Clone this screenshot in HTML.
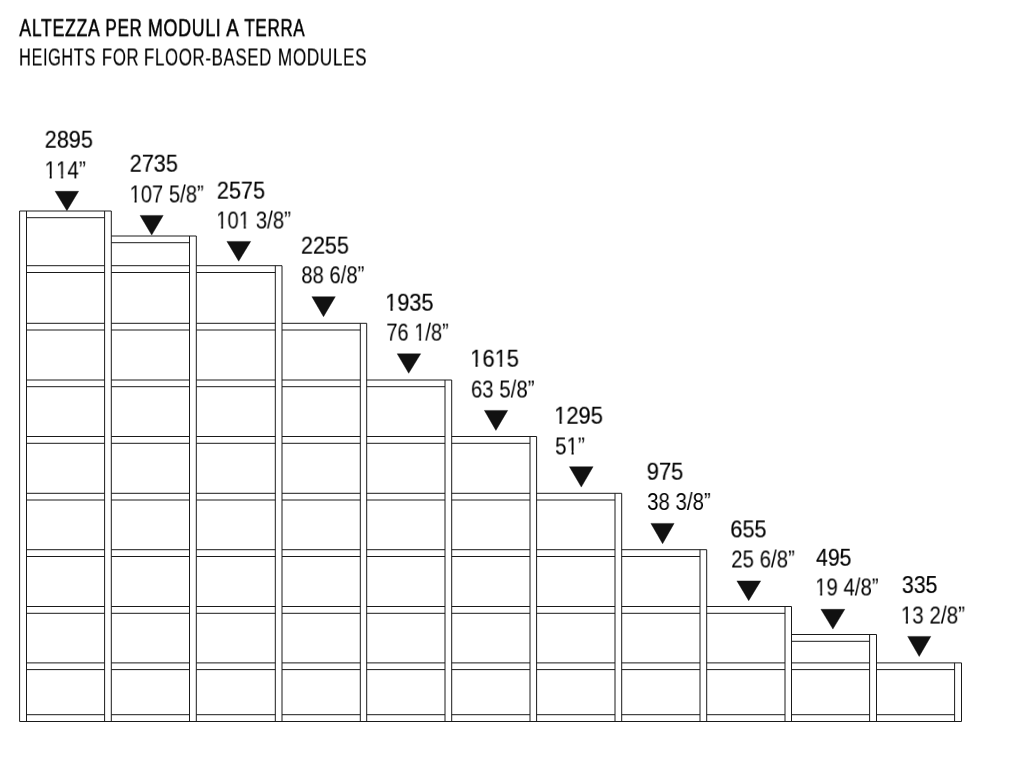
<!DOCTYPE html>
<html><head><meta charset="utf-8"><style>
html,body{margin:0;padding:0;background:#fff;width:1025px;height:780px;overflow:hidden}
.t{position:absolute;font-family:"Liberation Sans",sans-serif;white-space:nowrap;line-height:1;transform-origin:0 0;will-change:transform}
svg{position:absolute;left:0;top:0}
.o{display:inline-block;clip-path:polygon(0 0,100% 0,100% 65%,62% 65%,62% 100%,44% 100%,44% 65%,0 65%)}
</style></head><body>
<svg width="1025" height="780" viewBox="0 0 1025 780">
<g stroke="#1a1a1a" stroke-width="1.0" fill="none" stroke-linecap="butt">
<line x1="19.60" y1="211.00" x2="111.30" y2="211.00"/>
<line x1="26.50" y1="217.70" x2="104.60" y2="217.70"/>
<line x1="26.50" y1="265.70" x2="104.60" y2="265.70"/>
<line x1="26.50" y1="272.50" x2="104.60" y2="272.50"/>
<line x1="26.50" y1="323.30" x2="104.60" y2="323.30"/>
<line x1="26.50" y1="330.00" x2="104.60" y2="330.00"/>
<line x1="26.50" y1="380.00" x2="104.60" y2="380.00"/>
<line x1="26.50" y1="386.70" x2="104.60" y2="386.70"/>
<line x1="26.50" y1="436.50" x2="104.60" y2="436.50"/>
<line x1="26.50" y1="443.30" x2="104.60" y2="443.30"/>
<line x1="26.50" y1="493.30" x2="104.60" y2="493.30"/>
<line x1="26.50" y1="500.00" x2="104.60" y2="500.00"/>
<line x1="26.50" y1="549.70" x2="104.60" y2="549.70"/>
<line x1="26.50" y1="556.50" x2="104.60" y2="556.50"/>
<line x1="26.50" y1="606.50" x2="104.60" y2="606.50"/>
<line x1="26.50" y1="613.30" x2="104.60" y2="613.30"/>
<line x1="26.50" y1="662.90" x2="104.60" y2="662.90"/>
<line x1="26.50" y1="669.60" x2="104.60" y2="669.60"/>
<line x1="26.50" y1="714.70" x2="104.60" y2="714.70"/>
<line x1="111.30" y1="236.00" x2="196.30" y2="236.00"/>
<line x1="111.30" y1="242.70" x2="189.50" y2="242.70"/>
<line x1="111.30" y1="265.70" x2="189.50" y2="265.70"/>
<line x1="111.30" y1="272.50" x2="189.50" y2="272.50"/>
<line x1="111.30" y1="323.30" x2="189.50" y2="323.30"/>
<line x1="111.30" y1="330.00" x2="189.50" y2="330.00"/>
<line x1="111.30" y1="380.00" x2="189.50" y2="380.00"/>
<line x1="111.30" y1="386.70" x2="189.50" y2="386.70"/>
<line x1="111.30" y1="436.50" x2="189.50" y2="436.50"/>
<line x1="111.30" y1="443.30" x2="189.50" y2="443.30"/>
<line x1="111.30" y1="493.30" x2="189.50" y2="493.30"/>
<line x1="111.30" y1="500.00" x2="189.50" y2="500.00"/>
<line x1="111.30" y1="549.70" x2="189.50" y2="549.70"/>
<line x1="111.30" y1="556.50" x2="189.50" y2="556.50"/>
<line x1="111.30" y1="606.50" x2="189.50" y2="606.50"/>
<line x1="111.30" y1="613.30" x2="189.50" y2="613.30"/>
<line x1="111.30" y1="662.90" x2="189.50" y2="662.90"/>
<line x1="111.30" y1="669.60" x2="189.50" y2="669.60"/>
<line x1="111.30" y1="714.70" x2="189.50" y2="714.70"/>
<line x1="196.30" y1="265.70" x2="282.00" y2="265.70"/>
<line x1="196.30" y1="272.50" x2="275.30" y2="272.50"/>
<line x1="196.30" y1="323.30" x2="275.30" y2="323.30"/>
<line x1="196.30" y1="330.00" x2="275.30" y2="330.00"/>
<line x1="196.30" y1="380.00" x2="275.30" y2="380.00"/>
<line x1="196.30" y1="386.70" x2="275.30" y2="386.70"/>
<line x1="196.30" y1="436.50" x2="275.30" y2="436.50"/>
<line x1="196.30" y1="443.30" x2="275.30" y2="443.30"/>
<line x1="196.30" y1="493.30" x2="275.30" y2="493.30"/>
<line x1="196.30" y1="500.00" x2="275.30" y2="500.00"/>
<line x1="196.30" y1="549.70" x2="275.30" y2="549.70"/>
<line x1="196.30" y1="556.50" x2="275.30" y2="556.50"/>
<line x1="196.30" y1="606.50" x2="275.30" y2="606.50"/>
<line x1="196.30" y1="613.30" x2="275.30" y2="613.30"/>
<line x1="196.30" y1="662.90" x2="275.30" y2="662.90"/>
<line x1="196.30" y1="669.60" x2="275.30" y2="669.60"/>
<line x1="196.30" y1="714.70" x2="275.30" y2="714.70"/>
<line x1="282.00" y1="323.30" x2="366.70" y2="323.30"/>
<line x1="282.00" y1="330.00" x2="360.30" y2="330.00"/>
<line x1="282.00" y1="380.00" x2="360.30" y2="380.00"/>
<line x1="282.00" y1="386.70" x2="360.30" y2="386.70"/>
<line x1="282.00" y1="436.50" x2="360.30" y2="436.50"/>
<line x1="282.00" y1="443.30" x2="360.30" y2="443.30"/>
<line x1="282.00" y1="493.30" x2="360.30" y2="493.30"/>
<line x1="282.00" y1="500.00" x2="360.30" y2="500.00"/>
<line x1="282.00" y1="549.70" x2="360.30" y2="549.70"/>
<line x1="282.00" y1="556.50" x2="360.30" y2="556.50"/>
<line x1="282.00" y1="606.50" x2="360.30" y2="606.50"/>
<line x1="282.00" y1="613.30" x2="360.30" y2="613.30"/>
<line x1="282.00" y1="662.90" x2="360.30" y2="662.90"/>
<line x1="282.00" y1="669.60" x2="360.30" y2="669.60"/>
<line x1="282.00" y1="714.70" x2="360.30" y2="714.70"/>
<line x1="366.70" y1="380.00" x2="451.70" y2="380.00"/>
<line x1="366.70" y1="386.70" x2="445.00" y2="386.70"/>
<line x1="366.70" y1="436.50" x2="445.00" y2="436.50"/>
<line x1="366.70" y1="443.30" x2="445.00" y2="443.30"/>
<line x1="366.70" y1="493.30" x2="445.00" y2="493.30"/>
<line x1="366.70" y1="500.00" x2="445.00" y2="500.00"/>
<line x1="366.70" y1="549.70" x2="445.00" y2="549.70"/>
<line x1="366.70" y1="556.50" x2="445.00" y2="556.50"/>
<line x1="366.70" y1="606.50" x2="445.00" y2="606.50"/>
<line x1="366.70" y1="613.30" x2="445.00" y2="613.30"/>
<line x1="366.70" y1="662.90" x2="445.00" y2="662.90"/>
<line x1="366.70" y1="669.60" x2="445.00" y2="669.60"/>
<line x1="366.70" y1="714.70" x2="445.00" y2="714.70"/>
<line x1="451.70" y1="436.50" x2="536.60" y2="436.50"/>
<line x1="451.70" y1="443.30" x2="530.00" y2="443.30"/>
<line x1="451.70" y1="493.30" x2="530.00" y2="493.30"/>
<line x1="451.70" y1="500.00" x2="530.00" y2="500.00"/>
<line x1="451.70" y1="549.70" x2="530.00" y2="549.70"/>
<line x1="451.70" y1="556.50" x2="530.00" y2="556.50"/>
<line x1="451.70" y1="606.50" x2="530.00" y2="606.50"/>
<line x1="451.70" y1="613.30" x2="530.00" y2="613.30"/>
<line x1="451.70" y1="662.90" x2="530.00" y2="662.90"/>
<line x1="451.70" y1="669.60" x2="530.00" y2="669.60"/>
<line x1="451.70" y1="714.70" x2="530.00" y2="714.70"/>
<line x1="536.60" y1="493.30" x2="621.70" y2="493.30"/>
<line x1="536.60" y1="500.00" x2="615.00" y2="500.00"/>
<line x1="536.60" y1="549.70" x2="615.00" y2="549.70"/>
<line x1="536.60" y1="556.50" x2="615.00" y2="556.50"/>
<line x1="536.60" y1="606.50" x2="615.00" y2="606.50"/>
<line x1="536.60" y1="613.30" x2="615.00" y2="613.30"/>
<line x1="536.60" y1="662.90" x2="615.00" y2="662.90"/>
<line x1="536.60" y1="669.60" x2="615.00" y2="669.60"/>
<line x1="536.60" y1="714.70" x2="615.00" y2="714.70"/>
<line x1="621.70" y1="549.70" x2="706.70" y2="549.70"/>
<line x1="621.70" y1="556.50" x2="700.00" y2="556.50"/>
<line x1="621.70" y1="606.50" x2="700.00" y2="606.50"/>
<line x1="621.70" y1="613.30" x2="700.00" y2="613.30"/>
<line x1="621.70" y1="662.90" x2="700.00" y2="662.90"/>
<line x1="621.70" y1="669.60" x2="700.00" y2="669.60"/>
<line x1="621.70" y1="714.70" x2="700.00" y2="714.70"/>
<line x1="706.70" y1="606.50" x2="791.50" y2="606.50"/>
<line x1="706.70" y1="613.30" x2="785.00" y2="613.30"/>
<line x1="706.70" y1="662.90" x2="785.00" y2="662.90"/>
<line x1="706.70" y1="669.60" x2="785.00" y2="669.60"/>
<line x1="706.70" y1="714.70" x2="785.00" y2="714.70"/>
<line x1="791.50" y1="634.50" x2="876.50" y2="634.50"/>
<line x1="791.50" y1="641.30" x2="869.60" y2="641.30"/>
<line x1="791.50" y1="662.90" x2="869.60" y2="662.90"/>
<line x1="791.50" y1="669.60" x2="869.60" y2="669.60"/>
<line x1="791.50" y1="714.70" x2="869.60" y2="714.70"/>
<line x1="876.50" y1="662.90" x2="961.50" y2="662.90"/>
<line x1="876.50" y1="669.60" x2="954.60" y2="669.60"/>
<line x1="876.50" y1="714.70" x2="954.60" y2="714.70"/>
<line x1="19.60" y1="721.50" x2="961.50" y2="721.50"/>
<line x1="19.60" y1="211.00" x2="19.60" y2="721.50"/>
<line x1="26.50" y1="211.00" x2="26.50" y2="721.50"/>
<line x1="104.60" y1="211.00" x2="104.60" y2="721.50"/>
<line x1="111.30" y1="211.00" x2="111.30" y2="721.50"/>
<line x1="189.50" y1="236.00" x2="189.50" y2="721.50"/>
<line x1="196.30" y1="236.00" x2="196.30" y2="721.50"/>
<line x1="275.30" y1="265.70" x2="275.30" y2="721.50"/>
<line x1="282.00" y1="265.70" x2="282.00" y2="721.50"/>
<line x1="360.30" y1="323.30" x2="360.30" y2="721.50"/>
<line x1="366.70" y1="323.30" x2="366.70" y2="721.50"/>
<line x1="445.00" y1="380.00" x2="445.00" y2="721.50"/>
<line x1="451.70" y1="380.00" x2="451.70" y2="721.50"/>
<line x1="530.00" y1="436.50" x2="530.00" y2="721.50"/>
<line x1="536.60" y1="436.50" x2="536.60" y2="721.50"/>
<line x1="615.00" y1="493.30" x2="615.00" y2="721.50"/>
<line x1="621.70" y1="493.30" x2="621.70" y2="721.50"/>
<line x1="700.00" y1="549.70" x2="700.00" y2="721.50"/>
<line x1="706.70" y1="549.70" x2="706.70" y2="721.50"/>
<line x1="785.00" y1="606.50" x2="785.00" y2="721.50"/>
<line x1="791.50" y1="606.50" x2="791.50" y2="721.50"/>
<line x1="869.60" y1="634.50" x2="869.60" y2="721.50"/>
<line x1="876.50" y1="634.50" x2="876.50" y2="721.50"/>
<line x1="954.60" y1="662.90" x2="954.60" y2="721.50"/>
<line x1="961.50" y1="662.90" x2="961.50" y2="721.50"/>
</g>
<g fill="#111" stroke="#111" stroke-width="0.4" stroke-linejoin="round">
<polygon points="55.1,191.3 78.6,191.3 66.9,210.7"/>
<polygon points="140.1,215.4 163.2,215.4 151.7,235.1"/>
<polygon points="226.9,241.4 250.7,241.4 238.7,261.2"/>
<polygon points="311.9,296.7 335.3,296.7 323.5,316.7"/>
<polygon points="397.2,353.8 420.7,353.8 408.7,373.3"/>
<polygon points="484.4,410.4 507.7,410.4 495.9,430.4"/>
<polygon points="569.4,466.7 593.1,466.7 581.3,487.1"/>
<polygon points="650.9,523.4 674.1,523.4 662.6,543.7"/>
<polygon points="736.9,580.9 760.7,580.9 748.7,600.7"/>
<polygon points="820.9,609.3 844.8,609.3 832.9,629.1"/>
<polygon points="907.7,636.4 930.8,636.4 919.2,656.5"/>
</g>
</svg>
<div class="t" style="left:19px;top:16px;font-size:24.20px;transform:translate(0.342px,0.168px) scaleX(0.7286);color:#000;letter-spacing:1.0px;-webkit-text-stroke:0.6px #000;">ALTEZZA</div>
<div class="t" style="left:105px;top:16px;font-size:24.20px;transform:translate(0.237px,0.168px) scaleX(0.7064);color:#000;letter-spacing:1.0px;-webkit-text-stroke:0.6px #000;">PER</div>
<div class="t" style="left:147px;top:16px;font-size:24.20px;transform:translate(0.891px,0.168px) scaleX(0.7365);color:#000;letter-spacing:1.0px;-webkit-text-stroke:0.6px #000;">MODULI</div>
<div class="t" style="left:226px;top:16px;font-size:24.20px;transform:translate(0.261px,0.168px) scaleX(0.7752);color:#000;letter-spacing:1.0px;-webkit-text-stroke:0.6px #000;">A</div>
<div class="t" style="left:244px;top:16px;font-size:24.20px;transform:translate(0.367px,0.168px) scaleX(0.7007);color:#000;letter-spacing:1.0px;-webkit-text-stroke:0.6px #000;">TERRA</div>
<div class="t" style="left:19px;top:45px;font-size:24.80px;transform:translate(0.047px,0.496px) scaleX(0.6564);color:#000;letter-spacing:1.0px;-webkit-text-stroke:0.15px #000;">HEIGHTS</div>
<div class="t" style="left:101px;top:45px;font-size:24.80px;transform:translate(0.942px,0.496px) scaleX(0.6729);color:#000;letter-spacing:1.0px;-webkit-text-stroke:0.15px #000;">FOR</div>
<div class="t" style="left:143px;top:45px;font-size:24.80px;transform:translate(0.973px,0.496px) scaleX(0.6785);color:#000;letter-spacing:1.0px;-webkit-text-stroke:0.15px #000;">FLOOR-BASED</div>
<div class="t" style="left:277px;top:45px;font-size:24.80px;transform:translate(0.882px,0.496px) scaleX(0.6896);color:#000;letter-spacing:1.0px;-webkit-text-stroke:0.15px #000;">MODULES</div>
<div class="t" style="left:44px;top:127px;font-size:24.60px;transform:translate(0.697px,0.728px) scaleX(0.8818);color:#000;letter-spacing:0.0px;-webkit-text-stroke:0.2px #000;">2895</div>
<div class="t" style="left:129px;top:151px;font-size:24.60px;transform:translate(0.697px,0.728px) scaleX(0.8818);color:#000;letter-spacing:0.0px;-webkit-text-stroke:0.2px #000;">2735</div>
<div class="t" style="left:216px;top:178px;font-size:24.60px;transform:translate(0.809px,0.670px) scaleX(0.8821);color:#000;letter-spacing:0.0px;-webkit-text-stroke:0.2px #000;">2575</div>
<div class="t" style="left:300px;top:233px;font-size:24.60px;transform:translate(0.917px,0.670px) scaleX(0.8777);color:#000;letter-spacing:0.0px;-webkit-text-stroke:0.2px #000;">2255</div>
<div class="t" style="left:385px;top:290px;font-size:24.60px;transform:translate(0.169px,0.728px) scaleX(0.8840);color:#000;letter-spacing:0.0px;-webkit-text-stroke:0.2px #000;"><span class="o">1</span>935</div>
<div class="t" style="left:470px;top:346px;font-size:24.60px;transform:translate(0.141px,0.728px) scaleX(0.8920);color:#000;letter-spacing:0.0px;-webkit-text-stroke:0.2px #000;"><span class="o">1</span>6<span class="o">1</span>5</div>
<div class="t" style="left:554px;top:403px;font-size:24.60px;transform:translate(0.141px,0.728px) scaleX(0.8920);color:#000;letter-spacing:0.0px;-webkit-text-stroke:0.2px #000;"><span class="o">1</span>295</div>
<div class="t" style="left:646px;top:459px;font-size:24.60px;transform:translate(0.686px,0.695px) scaleX(0.8931);color:#000;letter-spacing:0.0px;-webkit-text-stroke:0.2px #000;">975</div>
<div class="t" style="left:730px;top:517px;font-size:24.60px;transform:translate(0.332px,0.393px) scaleX(0.8821);color:#000;letter-spacing:0.0px;-webkit-text-stroke:0.2px #000;">655</div>
<div class="t" style="left:816px;top:545px;font-size:24.60px;transform:translate(0.020px,0.761px) scaleX(0.8636);color:#000;letter-spacing:0.0px;-webkit-text-stroke:0.2px #000;">495</div>
<div class="t" style="left:901px;top:573px;font-size:24.60px;transform:translate(0.901px,0.048px) scaleX(0.8671);color:#000;letter-spacing:0.0px;-webkit-text-stroke:0.2px #000;">335</div>
<div class="t" style="left:44px;top:159px;font-size:23.00px;transform:translate(0.545px,0.424px) scaleX(0.8934);color:#000;letter-spacing:0.0px;"><span class="o">1</span><span class="o">1</span>4”</div>
<div class="t" style="left:129px;top:183px;font-size:23.00px;transform:translate(0.533px,0.492px) scaleX(0.8790);color:#000;letter-spacing:0.0px;"><span class="o">1</span>07 5/8”</div>
<div class="t" style="left:216px;top:209px;font-size:23.00px;transform:translate(0.123px,0.559px) scaleX(0.8857);color:#000;letter-spacing:0.0px;"><span class="o">1</span>0<span class="o">1</span> 3/8”</div>
<div class="t" style="left:301px;top:264px;font-size:23.00px;transform:translate(0.321px,0.293px) scaleX(0.8788);color:#000;letter-spacing:0.0px;">88 6/8”</div>
<div class="t" style="left:386px;top:321px;font-size:23.00px;transform:translate(0.355px,0.604px) scaleX(0.8702);color:#000;letter-spacing:0.0px;">76 <span class="o">1</span>/8”</div>
<div class="t" style="left:470px;top:378px;font-size:23.00px;transform:translate(0.899px,0.509px) scaleX(0.8878);color:#000;letter-spacing:0.0px;">63 5/8”</div>
<div class="t" style="left:555px;top:435px;font-size:23.00px;transform:translate(0.026px,0.448px) scaleX(0.8976);color:#000;letter-spacing:0.0px;">5<span class="o">1</span>”</div>
<div class="t" style="left:647px;top:490px;font-size:23.00px;transform:translate(0.140px,0.992px) scaleX(0.8875);color:#000;letter-spacing:0.0px;">38 3/8”</div>
<div class="t" style="left:731px;top:548px;font-size:23.00px;transform:translate(0.212px,0.478px) scaleX(0.8881);color:#000;letter-spacing:0.0px;">25 6/8”</div>
<div class="t" style="left:815px;top:576px;font-size:23.00px;transform:translate(0.144px,0.448px) scaleX(0.8858);color:#000;letter-spacing:0.0px;"><span class="o">1</span>9 4/8”</div>
<div class="t" style="left:900px;top:604px;font-size:23.00px;transform:translate(0.819px,0.551px) scaleX(0.8953);color:#000;letter-spacing:0.0px;"><span class="o">1</span>3 2/8”</div>
</body></html>
